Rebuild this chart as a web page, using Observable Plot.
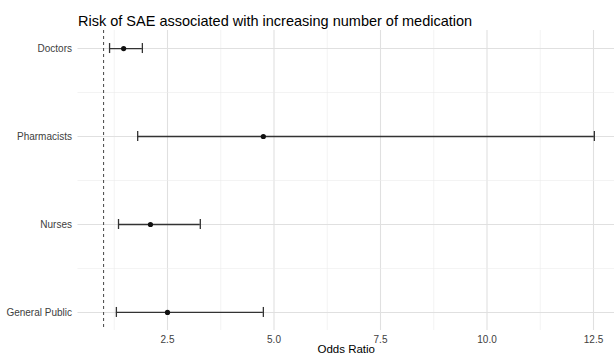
<!DOCTYPE html>
<html>
<head>
<meta charset="utf-8">
<script src="https://cdn.jsdelivr.net/npm/d3@7"></script>
<script src="https://cdn.jsdelivr.net/npm/@observablehq/plot@0.6"></script>
<style>
  html, body { margin: 0; padding: 0; background: #fff; overflow: hidden; }
</style>
</head>
<body>
<div id="chart"></div>
<script>
const title = "Risk of SAE associated with increasing number of medication";
const categories = ["Doctors", "Pharmacists", "Nurses", "General Public"];
const oddsRatio = [1.47, 4.75, 2.10, 2.50];
const lowerCI = [1.14, 1.80, 1.35, 1.30];
const upperCI = [1.91, 12.52, 3.27, 4.75];
const referenceOR = [1];
const xMajorTicks = [2.5, 5, 7.5, 10, 12.5];
const xMinorTicks = [1.25, 3.75, 6.25, 8.75, 11.25];
const yMinor = [1.5, 2.5, 3.5];
const xLabel = "Odds Ratio";

const rows = categories.map((c, i) => ({
  cat: c, pos: i + 1, or: oddsRatio[i], lo: lowerCI[i], hi: upperCI[i]
}));

const chart = Plot.plot({
  width: 614,
  height: 356,
  marginTop: 30,
  marginBottom: 26,
  marginLeft: 77.5,
  marginRight: 0,
  style: { fontFamily: "'Liberation Sans', Arial, sans-serif", fontSize: "10px", background: "#fff", overflow: "visible" },
  x: { domain: [0.399, 12.993] },
  y: { domain: [0.795, 4.205], reverse: true },
  marks: [
    Plot.ruleX(xMinorTicks, { stroke: "#ebebeb", strokeWidth: 0.6 }),
    Plot.ruleX(xMajorTicks, { stroke: "#e0e0e0", strokeWidth: 1.1 }),
    Plot.ruleY(yMinor, { stroke: "#ebebeb", strokeWidth: 0.6 }),
    Plot.ruleY(rows, { y: "pos", stroke: "#e0e0e0", strokeWidth: 1.1 }),
    Plot.ruleX(referenceOR, { stroke: "#444", strokeWidth: 1, strokeDasharray: "3,3" }),
    Plot.ruleY(rows, { y: "pos", x1: "lo", x2: "hi", stroke: "#333", strokeWidth: 1.3 }),
    Plot.ruleX(rows, { x: "lo", y1: "pos", y2: "pos", insetTop: -5, insetBottom: -5, stroke: "#333", strokeWidth: 1.3 }),
    Plot.ruleX(rows, { x: "hi", y1: "pos", y2: "pos", insetTop: -5, insetBottom: -5, stroke: "#333", strokeWidth: 1.3 }),
    Plot.dot(rows, { x: "or", y: "pos", r: 2.6, fill: "#111", stroke: "none" }),
    Plot.axisY({ ticks: [1, 2, 3, 4], tickFormat: d => categories[d - 1], tickSize: 0, tickPadding: 6, label: null, fill: "#404040" }),
    Plot.axisX({ ticks: xMajorTicks, tickFormat: d3.format(".1f"), tickSize: 0, tickPadding: 5, label: null, fill: "#404040" }),
    Plot.text([xLabel], { frameAnchor: "bottom", dy: 22.5, lineAnchor: "bottom", fontSize: 11.5, fill: "#000" }),
    Plot.text([title], { frameAnchor: "top-left", dy: -5, lineAnchor: "bottom", textAnchor: "start", fontSize: 14.5, fill: "#000" })
  ]
});
document.getElementById("chart").appendChild(chart);
</script>
</body>
</html>
